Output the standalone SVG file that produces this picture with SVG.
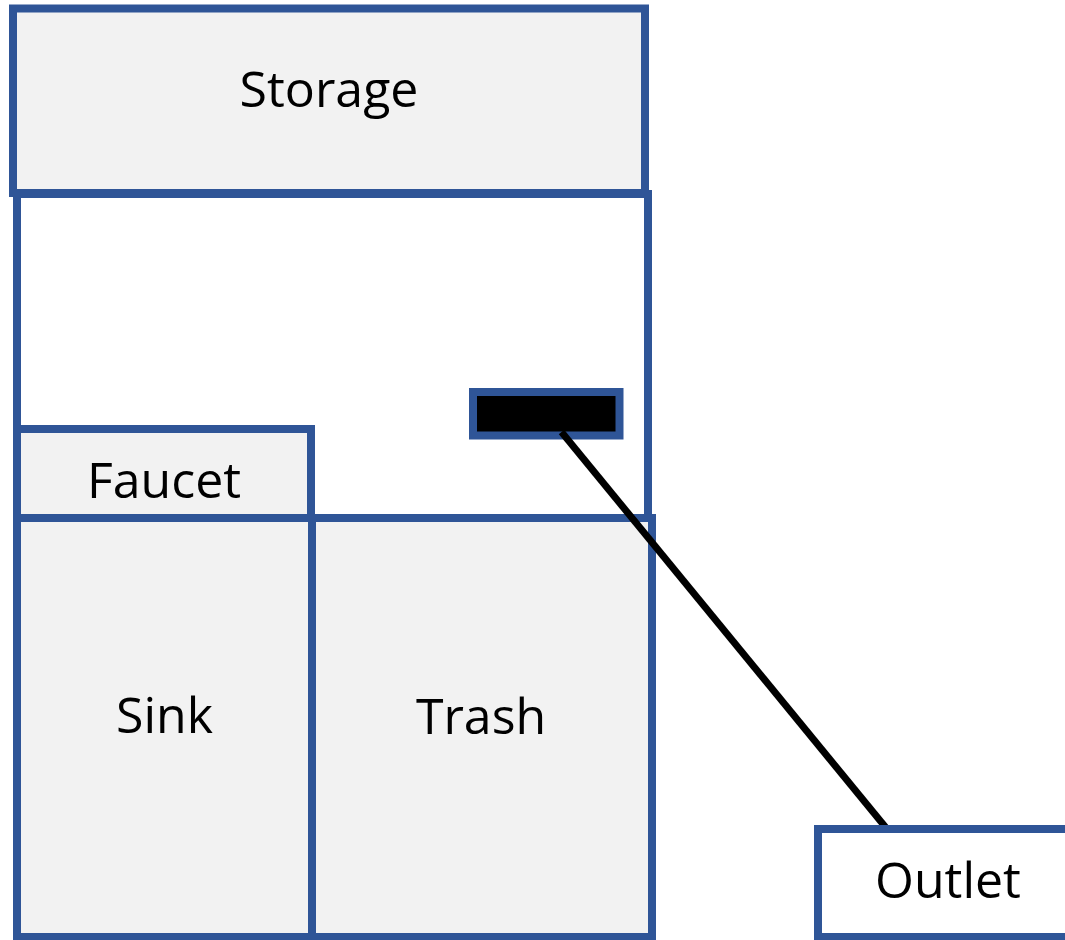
<svg xmlns="http://www.w3.org/2000/svg" width="1065" height="940" viewBox="0 0 1065 940">
<style>
.box{fill:#F2F2F2;stroke:#2F5597;stroke-width:8}
.wbox{fill:#FFFFFF;stroke:#2F5597;stroke-width:8}
.lbl{font-family:"Open Sans","Noto Sans","Liberation Sans",sans-serif;font-size:50px;fill:#000000;text-anchor:middle}
.wire{stroke:#000000;stroke-width:7;fill:none}
</style>
<rect width="1065" height="940" fill="#FFFFFF"/>
<g id="storage">
<rect class="box" x="13" y="8.5" width="632" height="184.5"/>
<text class="lbl" x="329" y="107">Storage</text>
</g>
<g id="counter">
<rect class="wbox" x="17" y="194" width="631" height="324"/>
</g>
<g id="faucet">
<rect class="box" x="17" y="429" width="294" height="89.5"/>
<text class="lbl" x="164" y="498">Faucet</text>
</g>
<g id="sink">
<rect class="box" x="17" y="518" width="295" height="419"/>
<text class="lbl" x="164.5" y="733">Sink</text>
</g>
<g id="trash">
<rect class="box" x="312" y="518" width="340" height="419"/>
<text class="lbl" x="481" y="734">Trash</text>
</g>
<g id="plug">
<rect x="473" y="392" width="146.5" height="43.5" fill="#000000" stroke="#2F5597" stroke-width="8"/>
</g>
<g id="connectors">
<line class="wire" x1="561.5" y1="432" x2="887" y2="829"/>
</g>
<g id="outlet">
<rect class="wbox" x="818" y="829" width="260" height="108"/>
<text class="lbl" x="948" y="898">Outlet</text>
</g>
</svg>
